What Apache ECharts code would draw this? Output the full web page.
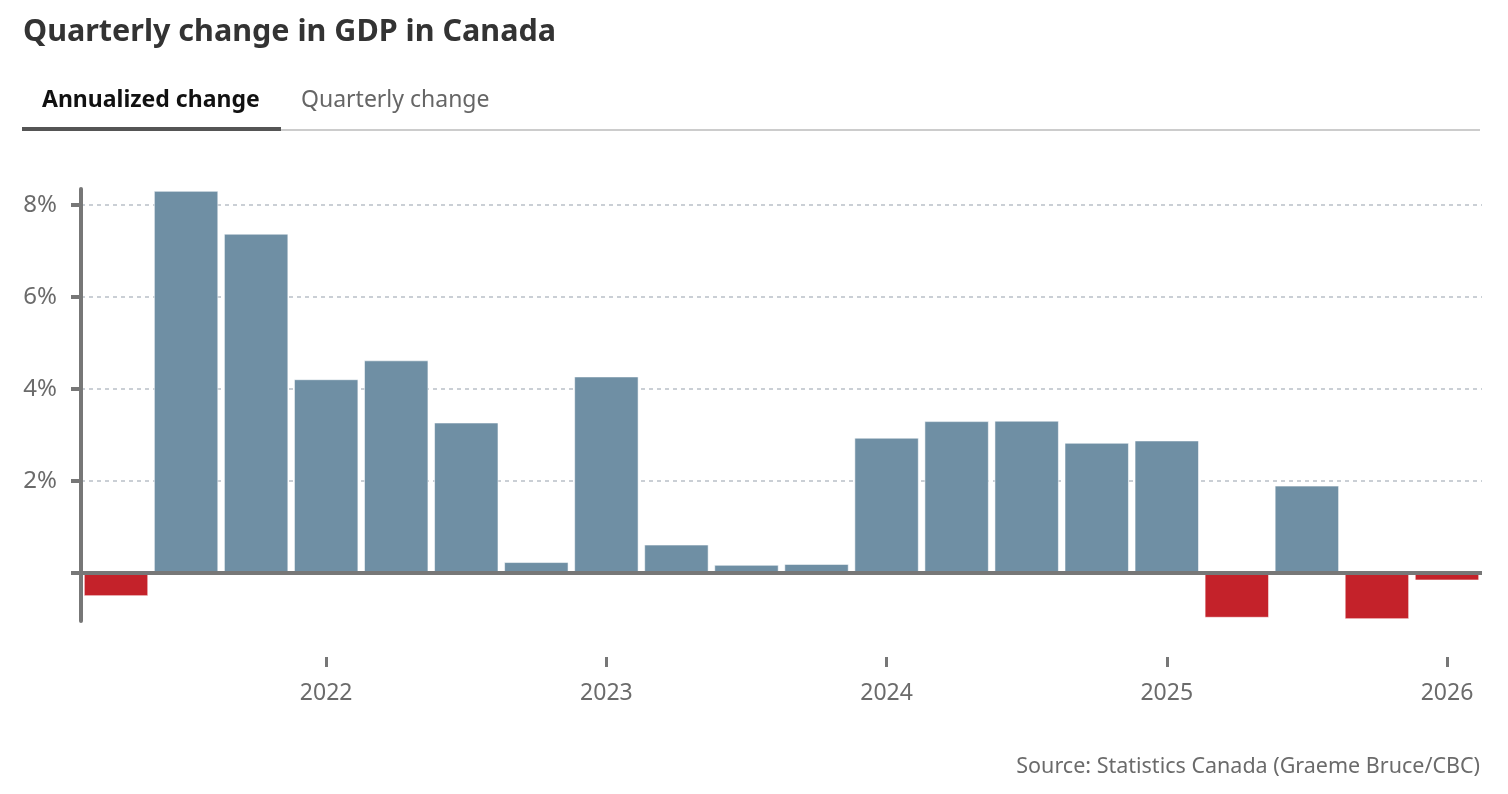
<!DOCTYPE html>
<html>
<head>
<meta charset="utf-8">
<title>Quarterly change in GDP in Canada</title>
<script src="https://cdn.jsdelivr.net/npm/echarts@6/dist/echarts.min.js"></script>
<style>
  html, body { margin: 0; padding: 0; background: #fff; }
  #chart { width: 1508px; height: 794px; }
</style>
</head>
<body>
<div id="chart"></div>
<script>
// quarters shown, oldest first
var quarters = [
  'Q2 2021', 'Q3 2021', 'Q4 2021',
  'Q1 2022', 'Q2 2022', 'Q3 2022', 'Q4 2022',
  'Q1 2023', 'Q2 2023', 'Q3 2023', 'Q4 2023',
  'Q1 2024', 'Q2 2024', 'Q3 2024', 'Q4 2024',
  'Q1 2025', 'Q2 2025', 'Q3 2025', 'Q4 2025',
  'Q1 2026'
];
// annualized change, %
var annualized = [
  -0.5, 8.3, 7.37,
  4.21, 4.62, 3.27, 0.24,
  4.27, 0.62, 0.18, 0.2,
  2.94, 3.3, 3.31, 2.83,
  2.88, -0.97, 1.9, -1.0,
  -0.16
];
var yTicks = [0, 2, 4, 6, 8];
var yLabels = [2, 4, 6, 8];

var FONT = '"Noto Sans", sans-serif';
var GREY = '#777777';

var chart = echarts.init(document.getElementById('chart'));

var option = {
  animation: false,
  title: {
    text: 'Quarterly change in GDP in Canada',
    left: 18,
    top: 12,
    textStyle: { fontFamily: FONT, fontSize: 30.5, fontWeight: 'bold', color: '#333333' }
  },
  graphic: [
    { type: 'text', left: 42, top: 89,
      style: { text: 'Annualized change', font: 'bold 23px "Noto Sans"', fill: '#111111' } },
    { type: 'text', left: 301, top: 89,
      style: { text: 'Quarterly change', font: '23px "Noto Sans"', fill: '#666666' } },
    { type: 'rect', shape: { x: 281, y: 129, width: 1199, height: 2 }, style: { fill: '#cccccc' } },
    { type: 'rect', shape: { x: 22, y: 127, width: 259, height: 4 }, style: { fill: '#555555' } },
    { type: 'text', right: 28, top: 756,
      style: { text: 'Source: Statistics Canada (Graeme Bruce/CBC)', font: '21.5px "Noto Sans"', fill: '#6b6b6b' } }
  ],
  grid: { left: 81, right: 26, top: 189, bottom: 173, containLabel: false },
  xAxis: {
    type: 'category',
    data: quarters,
    position: 'bottom',
    offset: 36,
    axisLine: { show: false, onZero: false },
    axisTick: {
      show: true,
      alignWithLabel: true,
      length: 10,
      lineStyle: { color: GREY, width: 3 },
      interval: function (i, v) { return v.indexOf('Q1') === 0; }
    },
    axisLabel: {
      interval: function (i, v) { return v.indexOf('Q1') === 0; },
      formatter: function (v) { return v.split(' ')[1]; },
      margin: 25,
      fontFamily: FONT,
      fontSize: 23,
      color: '#6b6b6b'
    },
    splitLine: { show: false }
  },
  yAxis: {
    type: 'value',
    min: -1.04,
    max: 8.34,
    axisLine: { show: true, lineStyle: { color: GREY, width: 4 } },
    axisTick: {
      show: true,
      length: 10,
      customValues: yTicks,
      lineStyle: { color: GREY, width: 4 }
    },
    axisLabel: {
      customValues: yLabels,
      formatter: '{value}%',
      margin: 24,
      fontFamily: FONT,
      fontSize: 24,
      color: '#6b6b6b'
    },
    splitLine: {
      show: true,
      lineStyle: { color: '#b9c0c7', width: 1.5, type: [4, 4] }
    }
  },
  series: [{
    type: 'bar',
    data: annualized,
    barWidth: '92%',
    itemStyle: {
      color: function (p) { return p.value < 0 ? '#c4222a' : '#6f8fa4'; },
      borderColor: 'rgba(255,255,255,0.55)',
      borderWidth: 1
    },
    markLine: {
      silent: true,
      symbol: 'none',
      label: { show: false },
      lineStyle: { color: GREY, width: 4, type: 'solid' },
      data: [{ yAxis: 0 }]
    }
  }]
};

chart.setOption(option);
</script>
</body>
</html>
